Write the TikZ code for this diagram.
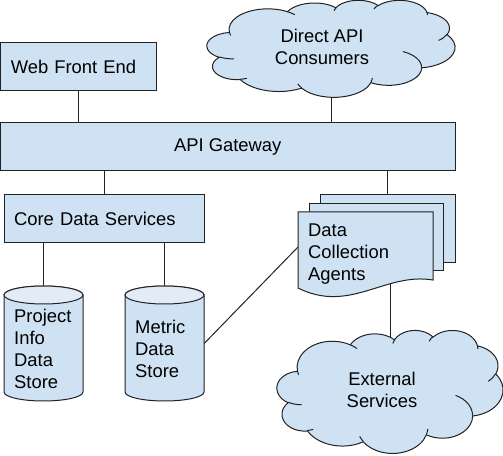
\documentclass[tikz,border=0pt]{standalone}
\usepackage{fontspec}
\setmainfont{Liberation Sans}
\usetikzlibrary{shapes.geometric}
\pgfdeclarelayer{bg}
\pgfsetlayers{bg,main}
\definecolor{fillb}{HTML}{CFE2F3}
\definecolor{capb}{HTML}{E1ECF7}
\definecolor{edge}{HTML}{222222}
% polar angle -> parametric angle for an ellipse arc: #1 name, #2 wR, #3 hR, #4 start, #5 sweep
\newcommand\pa[5]{%
 \pgfmathsetmacro\tmpa{atan2(#2*sin(#4), #3*cos(#4))}%
 \pgfmathsetmacro\tmpb{atan2(#2*sin(#4+#5), #3*cos(#4+#5))}%
 \pgfmathsetmacro\tmpd{mod(\tmpb-\tmpa+720,360)}%
 \expandafter\let\csname s#1\endcsname\tmpa
 \expandafter\let\csname d#1\endcsname\tmpd}
\newcommand\A[3]{arc[start angle=\csname s#1\endcsname, delta angle=\csname d#1\endcsname, x radius=#2, y radius=#3]}
% Google / Office style cloud: #1 left x, #2 top Y, #3 x unit, #4 y unit
\newcommand\mycloud[4]{%
\begin{scope}[shift={(#1,#2)}, x=#3, y=#4]
\pa{a}{156.32}{212.73}{-190.4875}{123.7805}%
\pa{b}{123.45}{168.22}{-144.1024}{89.9452}%
\pa{c}{101.04}{137.62}{-145.8079}{99.7230}%
\pa{d}{112.43}{152.66}{-130.9861}{117.2417}%
\pa{e}{123.45}{168.36}{-78.7089}{109.0269}%
\pa{f}{156.83}{213.43}{-46.2673}{130.2690}%
\pa{g}{133.91}{182.11}{0.6250}{114.0333}%
\pa{h}{156.30}{213.31}{22.4516}{115.1726}%
\pa{i}{178.70}{244.05}{66.2426}{75.7110}%
\pa{j}{100.93}{136.99}{-274.9421}{146.7356}%
\pa{k}{100.58}{137.62}{-246.8285}{152.5189}%
\pa{ca}{100.58}{137.62}{86.7420}{26.4295}%
\pa{cb}{100.93}{136.99}{73.6105}{11.4475}%
\pa{cc}{156.30}{213.31}{137.6242}{14.0811}%
\pa{cd}{156.30}{213.31}{6.4533}{15.9984}%
\pa{ce}{133.91}{182.11}{-70.2924}{70.9174}%
\pa{cf}{123.45}{168.36}{30.3180}{27.7515}%
\pa{cg}{112.43}{152.66}{-13.7443}{14.8589}%
\pa{ch}{112.43}{152.66}{-149.1815}{18.1954}%
\pa{ci}{101.04}{137.62}{-163.4943}{17.6864}%
\pa{cj}{156.32}{212.73}{-66.7070}{12.3194}%
\pa{ck}{156.32}{212.73}{157.6544}{11.8582}%
\draw[shp] (90.28,332.64)
 \A{a}{156.32}{212.73} \A{b}{123.45}{168.22} \A{c}{101.04}{137.62}
 \A{d}{112.43}{152.66} \A{e}{123.45}{168.36} \A{f}{156.83}{213.43}
 \A{g}{133.91}{182.11} \A{h}{156.30}{213.31} \A{i}{178.70}{244.05}
 \A{j}{100.93}{136.99} \A{k}{100.58}{137.62} -- cycle;
\draw[curl] (108.63,605.95) \A{ca}{100.58}{137.62};
\draw[curl] (160.37,807.85) \A{cb}{100.93}{136.99};
\draw[curl] (381.44,904.86) \A{cc}{156.30}{213.31};
\draw[curl] (667.29,804.42) \A{cd}{156.30}{213.31};
\draw[curl] (790.02,531.34) \A{ce}{133.91}{182.11};
\draw[curl] (967.55,355.42) \A{cf}{123.45}{168.36};
\draw[curl] (887.13,125.60) \A{cg}{112.43}{152.66};
\draw[curl] (673.10,91.48) \A{ch}{112.43}{152.66};
\draw[curl] (512.52,109.26) \A{ci}{101.04}{137.62};
\draw[curl] (324.07,120.19) \A{cj}{156.32}{212.73};
\draw[curl] (95.53,365.49) \A{ck}{156.32}{212.73};
\end{scope}}
\begin{document}
\begin{tikzpicture}[x=1pt,y=1pt,
 font=\fontsize{18.4}{22}\selectfont,
 shp/.style={draw=edge, fill=fillb, line width=1pt},
 curl/.style={draw=edge, line width=1pt},
 box/.style={shp, rectangle, minimum height=48pt, inner xsep=10pt, inner ysep=0pt},
 lbox/.style={box, align=left, text width=#1},
 ghost/.style={rectangle, inner sep=0pt, minimum width=#1},
 txt/.style={anchor=west, align=left, inner sep=0pt},
 conn/.style={draw=edge, line width=1pt}]
\useasboundingbox (0,0) rectangle (503,455);

% boxes
\node[lbox=136pt] (wfe) at (78.75,388) {Web Front End};
\node[box, minimum width=454.5pt] (gw) at (227.75,308) {API Gateway};
\node[lbox=180pt] (core) at (104,236) {Core Data Services};

% clouds
\mycloud{207}{455}{0.248pt}{-0.097pt}
\node[ghost=248pt, minimum height=97pt] (dac) at (331,406.5) {};
\node[align=center, inner sep=0pt] (dact) at (322,408) {Direct API\\Consumers};
\mycloud{277}{125}{0.226pt}{-0.123pt}
\node[ghost=226pt, minimum height=123pt] (ext) at (390,63.5) {};
\node[align=center, inner sep=0pt] (extt) at (382,65) {External\\Services};

% stacked pages
\node[shp, rectangle, minimum width=135pt, minimum height=68pt] (p3) at (387.5,226) {};
\node[shp, rectangle, minimum width=134pt, minimum height=67pt] (p2) at (376,217.5) {};
\draw[shp] (298,243) -- (433,243) -- (433,175) .. controls (385,183) and (350,141) .. (298,167) -- cycle;
\node[txt] (agents) at (308,201) {Data\\Collection\\Agents};
\coordinate (agl) at (298,208);
\coordinate (agb) at (390,172);

% cylinders
\draw[shp] (4,160) -- (4,63) arc[start angle=180,end angle=360,x radius=39.5,y radius=9] -- (83,160) arc[start angle=0,end angle=180,x radius=39.5,y radius=9] -- cycle;
\draw[shp, fill=capb] (43.5,160) ellipse[x radius=39.5, y radius=9];
\node[ghost=79pt, minimum height=115pt] (pi) at (43.5,111.5) {};
\node[txt] (pit) at (14,106) {Project\\Info\\Data\\Store};

\draw[shp] (125,160) -- (125,63) arc[start angle=180,end angle=360,x radius=39.5,y radius=9] -- (204,160) arc[start angle=0,end angle=180,x radius=39.5,y radius=9] -- cycle;
\draw[shp, fill=capb] (164.5,160) ellipse[x radius=39.5, y radius=9];
\node[ghost=79pt, minimum height=115pt] (md) at (164.5,111.5) {};
\node[txt] (mdt) at (135,106) {Metric\\Data\\Store};

% connectors
\begin{pgfonlayer}{bg}
\draw[conn] (wfe.south) -- (wfe.south |- gw.north);
\draw[conn] (dac.center) -- (dac.center |- gw.north);
\draw[conn] (core.north) -- (core.north |- gw.south);
\draw[conn] (p3.north) -- (p3.north |- gw.south);
\draw[conn] (pi.north) -- (pi.north |- core.south);
\draw[conn] (md.north) -- (md.north |- core.south);
\draw[conn] (md.east) -- (agl);
\draw[conn] (agb) -- (ext.center);
\end{pgfonlayer}
\end{tikzpicture}
\end{document}
